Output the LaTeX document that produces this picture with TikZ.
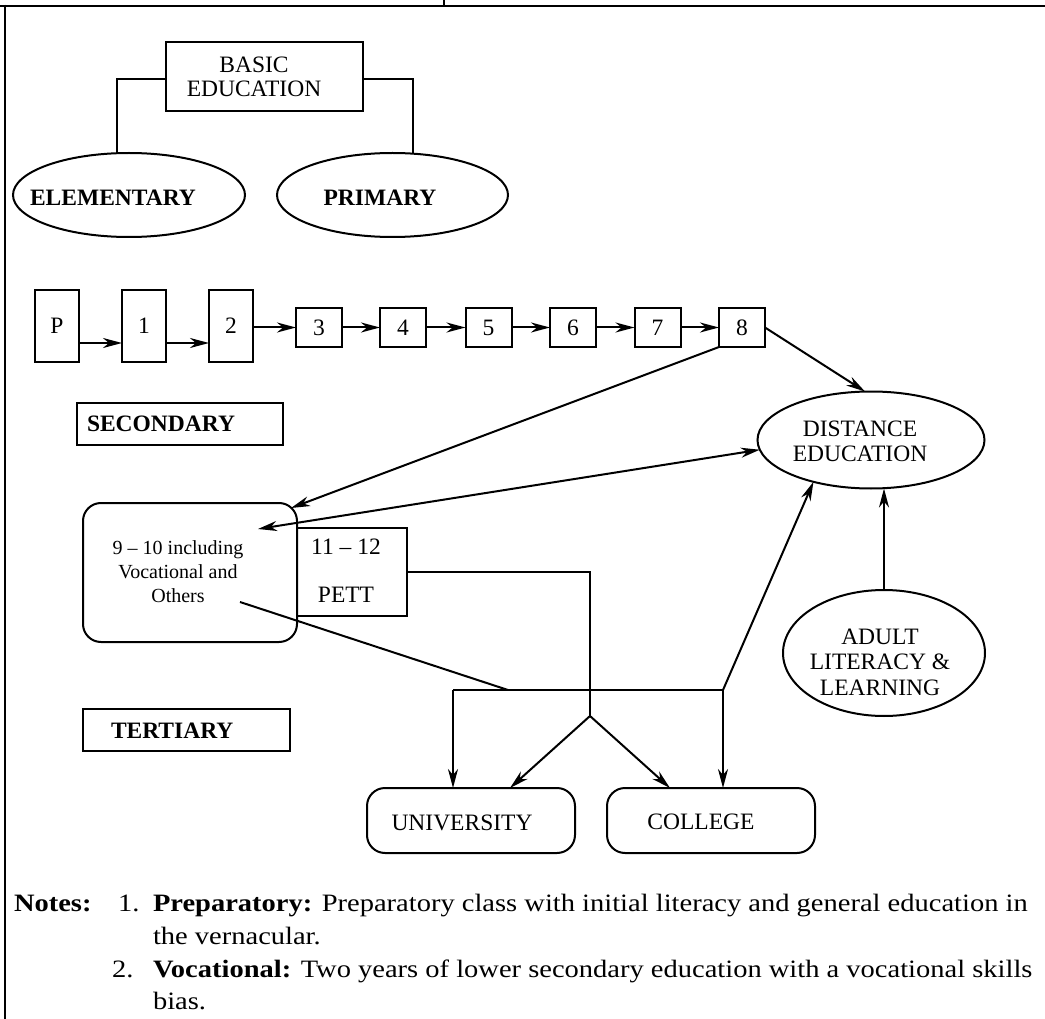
\documentclass[tikz,border=0pt]{standalone}
\usepackage{fontspec}
\setmainfont{Liberation Serif}
\newfontfamily\notesfont{Liberation Serif}[FakeStretch=1.14]
\usetikzlibrary{shapes.geometric,arrows.meta,calc}
\begin{document}
\begin{tikzpicture}[x=1pt,y=-1pt,
  line width=2pt,
  every node/.style={inner sep=0pt, outer sep=0pt, font=\fontsize{23.5}{24}\selectfont},
  box/.style={draw, rectangle},
  oval/.style={draw, ellipse},
  rbox/.style={draw, rectangle, rounded corners=18pt},
  txt/.style={align=center},
  bold/.style={font=\fontsize{23.5}{24}\selectfont\bfseries},
  small/.style={align=center, font=\fontsize{20}{24}\selectfont},
  grade/.style={box, minimum width=44pt, minimum height=72pt},
  gradeb/.style={box, minimum width=46pt, minimum height=39pt},
  arr/.style={-{Stealth[length=19pt,width=10pt,inset=6pt]}},
  arrtwo/.style={{Stealth[length=19pt,width=10pt,inset=6pt]}-{Stealth[length=19pt,width=10pt,inset=6pt]}},
  note/.style={anchor=base west, font=\notesfont\fontsize{25}{32}\selectfont}
]
\useasboundingbox (0,0) rectangle (1045,1019);
% frame
\draw[line width=2.8pt] (0,6) -- (1045,6);
\draw[line width=2.4pt] (5,4.6) -- (5,1019);
\draw[line width=1.4pt] (444,0) -- (444,6);

% basic education
\node[box, minimum width=197pt, minimum height=69pt] (basic) at (264.5,76.5) {};
\node[txt] (basicT) at (254,77) {BASIC\\EDUCATION};
\node[oval, minimum width=232pt, minimum height=84pt] (elem) at (129,195) {};
\node[bold] (elemT) at (113,198) {ELEMENTARY};
\node[oval, minimum width=231pt, minimum height=84pt] (prim) at (392.5,195) {};
\node[bold] (primT) at (380,198) {PRIMARY};
\draw ([yshift=-2.5pt]basic.west) -| ($(elem.north)+(-12,0)$);
\draw ([yshift=-2.5pt]basic.east) -| ($(prim.north)+(20,0)$);

% grades
\node[grade] (gP) at (57,326) {P};
\node[grade] (g1) at (144,326) {1};
\node[grade] (g2) at (231,326) {2};
\node[gradeb] (g3) at (319,327.5) {3};
\node[gradeb] (g4) at (403,327.5) {4};
\node[gradeb] (g5) at (488.5,327.5) {5};
\node[gradeb] (g6) at (573,327.5) {6};
\node[gradeb] (g7) at (657.5,327.5) {7};
\node[gradeb] (g8) at (742,327.5) {8};
\draw[arr] ([yshift=-17pt]gP.east) -- ([yshift=-17pt]g1.west);
\draw[arr] ([yshift=-17pt]g1.east) -- ([yshift=-17pt]g2.west);
\draw[arr] (g2.east |- g3.west) -- (g3.west);
\draw[arr] (g3.east) -- (g4.west);
\draw[arr] (g4.east) -- (g5.west);
\draw[arr] (g5.east) -- (g6.west);
\draw[arr] (g6.east) -- (g7.west);
\draw[arr] (g7.east) -- (g8.west);

% secondary
\node[box, minimum width=206pt, minimum height=42pt] (secL) at (180,424) {};
\node[bold, anchor=west] (secLT) at (87,424) {SECONDARY};
\node[oval, minimum width=227pt, minimum height=97pt] (dist) at (871,440) {};
\node[txt, font=\fontsize{23.5}{25}\selectfont] (distT) at (860,441.5) {DISTANCE\\EDUCATION};
\node[rbox, minimum width=214pt, minimum height=139pt] (sec) at (190,572.5) {};
\node[small] (secT) at (178,572) {9 -- 10 including\\Vocational and\\Others};
\node[box, minimum width=110pt, minimum height=88pt] (pett) at (352,572) {};
\node[txt] (pettT) at (346,571) {11 -- 12\\[24pt]PETT};
\node[oval, minimum width=202pt, minimum height=126pt] (adult) at (884,653) {};
\node[txt, font=\fontsize{23.5}{25.5}\selectfont] (adultT) at (880,662) {ADULT\\LITERACY \&\\LEARNING};

\draw[arr] (g8.east) -- ($(dist.north)+(-6,0)$);
\draw[arr] (g8.south west) -- ($(sec.north east)+(-6,5)$);
\coordinate (secIn) at ($(sec.center)+(68,-43.5)$);
\draw[arrtwo] (secIn) -- (dist.185);
\draw[arr] (adult.north) -- (adult.north |- dist.south);

% tertiary
\node[box, minimum width=207pt, minimum height=42pt] (terL) at (186.5,730) {};
\node[bold, anchor=west] (terLT) at (111,731) {TERTIARY};
\node[rbox, minimum width=208pt, minimum height=65pt] (univ) at (471,820.5) {};
\node (univT) at (462,823) {UNIVERSITY};
\node[rbox, minimum width=208pt, minimum height=65pt] (coll) at (711,820.5) {};
\node (collT) at (701,822) {COLLEGE};

\coordinate (J) at (590,716);
\coordinate (H1) at (453,690);
\coordinate (H2) at (723,690);
\coordinate (M) at (508,690);
\coordinate (secOut) at ($(sec.center)+(50,29.5)$);
\draw (pett.east) -| (J);
\draw[arr] (J) -- ($(univ.north)+(39,0)$);
\draw[arr] (J) -- ($(coll.north)+(-41,0)$);
\draw (secOut) -- (M);
\draw (H1) -- (H2);
\draw[arr] (H1) -- (H1 |- univ.north);
\draw[arr] (H2) -- (H2 |- coll.north);
\draw[arr] (H2) -- (dist.216);

% notes
\node[note] (notesH) at (14,911) {\textbf{Notes:}};
\node[note] (num1) at (118,911) {1.};
\node[note] (line1) at (153,911) {\textbf{Preparatory:} Preparatory class with initial literacy and general education in};
\node[note] (line2) at (153,944) {the vernacular.};
\node[note] (num2) at (112,977) {2.};
\node[note] (line3) at (153,977) {\textbf{Vocational:} Two years of lower secondary education with a vocational skills};
\node[note] (line4) at (153,1009) {bias.};
\end{tikzpicture}
\end{document}
